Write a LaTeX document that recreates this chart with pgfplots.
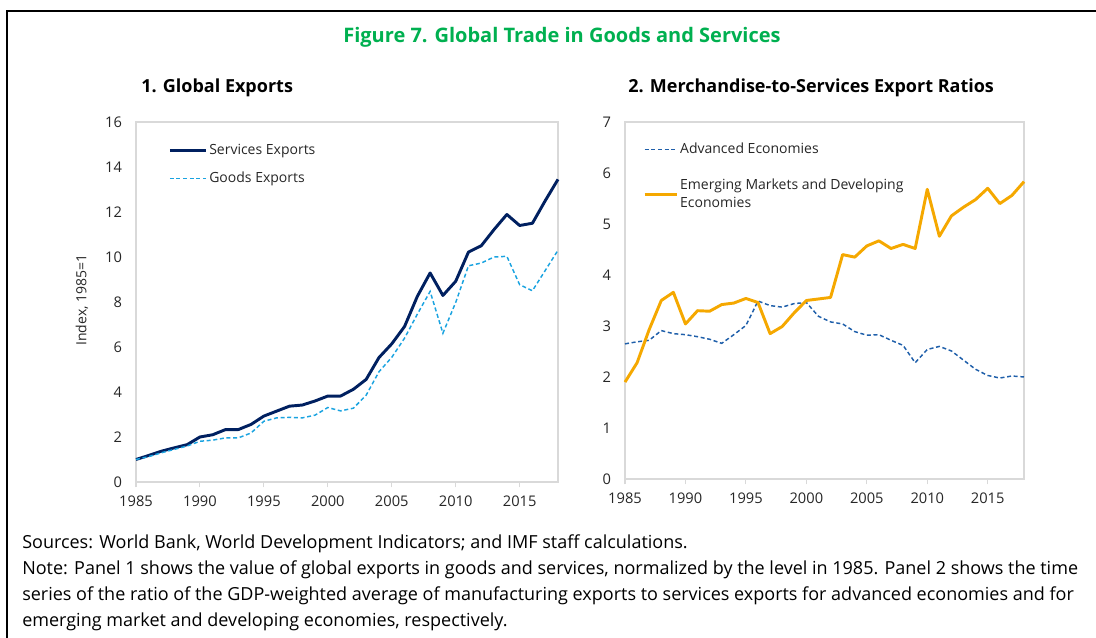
\documentclass[border=0pt]{standalone}
\usepackage{fontspec}
\setmainfont{Open Sans}
\usepackage{pgfplots}
\usepackage{pgfplotstable}
\pgfplotsset{compat=1.18}
\definecolor{navy}{HTML}{002060}
\definecolor{lblue}{HTML}{1AA3E0}
\definecolor{dblue}{HTML}{1F5FAA}
\definecolor{gold}{HTML}{F5A800}
\definecolor{figgreen}{HTML}{00B050}
\definecolor{framegray}{HTML}{D9D9D9}
\definecolor{txt}{HTML}{262626}

\pgfplotstableread{
year services goods
1985 1.00 1.00
1986 1.18 1.13
1987 1.37 1.30
1988 1.52 1.45
1989 1.66 1.60
1990 2.00 1.81
1991 2.10 1.86
1992 2.33 1.96
1993 2.33 1.96
1994 2.56 2.18
1995 2.93 2.70
1996 3.15 2.85
1997 3.37 2.87
1998 3.42 2.85
1999 3.60 2.97
2000 3.82 3.31
2001 3.82 3.16
2002 4.12 3.28
2003 4.56 3.86
2004 5.53 4.90
2005 6.14 5.54
2006 6.91 6.39
2007 8.25 7.46
2008 9.29 8.47
2009 8.29 6.61
2010 8.92 7.98
2011 10.22 9.61
2012 10.50 9.73
2013 11.22 10.00
2014 11.89 10.03
2015 11.40 8.77
2016 11.50 8.50
2017 12.50 9.40
2018 13.45 10.30
}\exports

\pgfplotstableread{
year adv emd
1985 2.65 1.90
1986 2.69 2.28
1987 2.72 2.93
1988 2.91 3.50
1989 2.85 3.66
1990 2.83 3.04
1991 2.79 3.30
1992 2.74 3.29
1993 2.66 3.42
1994 2.83 3.45
1995 3.01 3.54
1996 3.49 3.46
1997 3.40 2.85
1998 3.37 2.99
1999 3.44 3.26
2000 3.46 3.50
2001 3.19 3.53
2002 3.08 3.56
2003 3.04 4.40
2004 2.89 4.35
2005 2.82 4.57
2006 2.83 4.67
2007 2.72 4.52
2008 2.62 4.60
2009 2.28 4.52
2010 2.54 5.68
2011 2.60 4.76
2012 2.51 5.16
2013 2.33 5.33
2014 2.15 5.48
2015 2.03 5.70
2016 1.98 5.40
2017 2.02 5.56
2018 2.00 5.83
}\ratios

\pgfplotsset{
  panel/.style={
    scale only axis,
    xmin=1985, xmax=2018,
    xtick={1985,1990,...,2015},
    axis line style={framegray, line width=0.8pt},
    xtick style={framegray, line width=0.8pt},
    ytick style={draw=none},
    xtick align=outside,
    major tick length=4pt,
    xtick pos=bottom,
    ytick pos=left,
    ticklabel style={font=\fontsize{11}{12}\selectfont, text=txt},
    /pgf/number format/assume math mode=true,
    /pgf/number format/1000 sep={},
    xticklabel style={yshift=-3pt},
    yticklabel style={xshift=-7pt},
    legend cell align=left,
    clip=false,
  },
}

\begin{document}
\begin{tikzpicture}
\path[use as bounding box] (0,0) rectangle (822pt,478.5pt);
\begin{scope}[x=0.75pt,y=0.75pt]
\draw[line width=1.5pt] (7,0) -- (7,627) -- (1096,627);
\node[font=\bfseries\fontsize{15}{18}\selectfont, text=figgreen] at (562,601) {Figure 7. Global Trade in Goods and Services};
\node[font=\bfseries\fontsize{13.5}{16}\selectfont, text=black, anchor=west, inner sep=0pt] at (141,550) {1. Global Exports};
\node[font=\bfseries\fontsize{13.5}{16}\selectfont, text=black, anchor=west, inner sep=0pt] at (628,550) {2. Merchandise-to-Services Export Ratios};
\node[rotate=90, font=\fontsize{10.5}{12}\selectfont, text=txt] at (82,338) {Index, 1985=1};
\begin{scope}[every node/.style={anchor=base west, inner sep=0pt, font=\fontsize{13.5}{16}\selectfont, text=black}]
\node at (22,89) {Sources: World Bank, World Development Indicators; and IMF staff calculations.};
\node at (22,63) {Note: Panel 1 shows the value of global exports in goods and services, normalized by the level in 1985. Panel 2 shows the time};
\node at (22,37) {series of the ratio of the GDP-weighted average of manufacturing exports to services exports for advanced economies and for};
\node at (22,11) {emerging market and developing economies, respectively.};
\end{scope}
\end{scope}

\begin{axis}[panel,
  at={(102pt,117pt)}, anchor=south west,
  width=316.5pt, height=270pt,
  ymin=0, ymax=16, ytick={0,2,...,16},
  legend style={at={(0.076,0.944)}, anchor=north west, draw=none, fill=none,
    font=\fontsize{10.5}{12}\selectfont, text=txt, row sep=8.5pt, inner sep=0pt,
    nodes={inner sep=1.5pt}},
  legend image code/.code={\draw[#1] (0pt,0pt) -- (27pt,0pt);},
]
\addplot[navy, line width=2.2pt, line join=round] table[x=year, y=services] {\exports};
\addlegendentry{Services Exports}
\addplot[lblue, line width=1.1pt, dash pattern=on 3pt off 2pt] table[x=year, y=goods] {\exports};
\addlegendentry{Goods Exports}
\end{axis}

\begin{axis}[panel,
  at={(468.75pt,119.25pt)}, anchor=south west,
  width=299.25pt, height=267.75pt,
  ymin=0, ymax=7, ytick={0,1,...,7},
  legend style={at={(0.045,0.947)}, anchor=north west, draw=none, fill=none,
    font=\fontsize{10.5}{14}\selectfont, text=txt, row sep=14pt, inner sep=0pt,
    nodes={inner sep=1.5pt, align=left}},
  legend image code/.code={\draw[#1] (0pt,0pt) -- (24pt,0pt);},
]
\addplot[dblue, line width=1.1pt, dash pattern=on 3pt off 2pt] table[x=year, y=adv] {\ratios};
\addlegendentry{Advanced Economies}
\addplot[gold, line width=2.2pt, line join=round] table[x=year, y=emd] {\ratios};
\addlegendentry{Emerging Markets and Developing\\Economies}
\end{axis}
\end{tikzpicture}
\end{document}
